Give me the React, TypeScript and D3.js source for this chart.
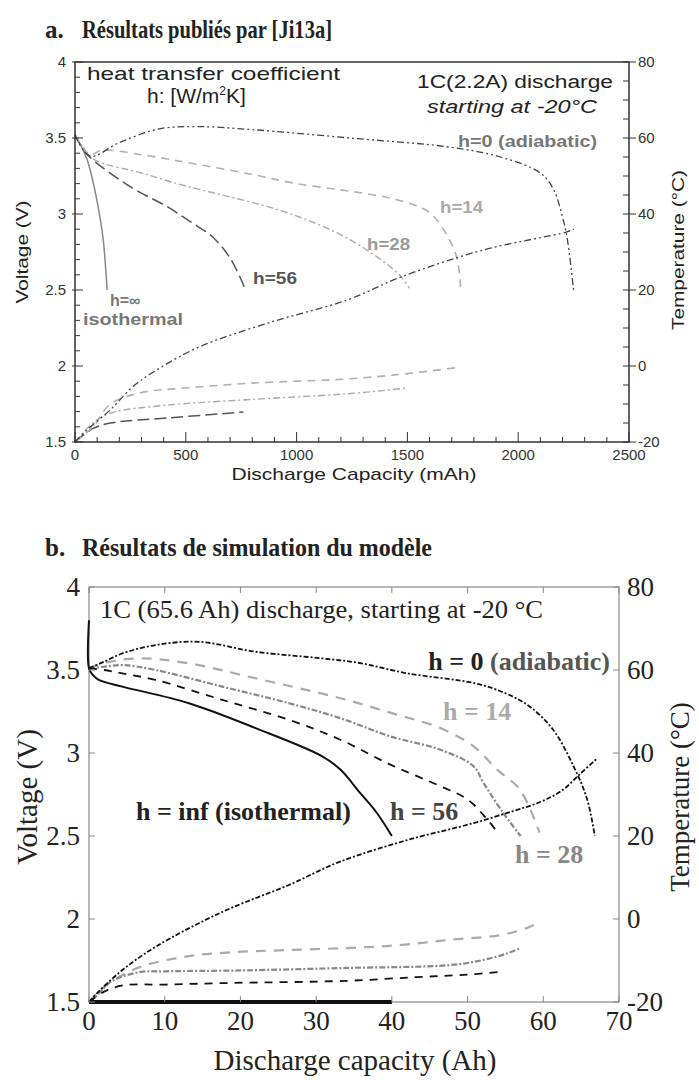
// Two discharge plots: voltage (left axis) and temperature (right axis) vs capacity.
import * as d3 from "d3";

type Pt = [number, number];

// ---- (a) published results [Ji13a], capacity in mAh ----
const aVoltInf: Pt[] = [[0, 3.52], [20, 3.47], [54, 3.36], [80, 3.22], [99, 3.09], [126, 2.85], [138, 2.65], [145, 2.5]];
const aVolt56: Pt[] = [[0, 3.52], [30, 3.44], [70, 3.37], [260, 3.17], [415, 3.05], [520, 2.95], [620, 2.85], [700, 2.71], [770, 2.5]];
const aVolt28: Pt[] = [[0, 3.52], [68, 3.38], [113, 3.34], [300, 3.27], [460, 3.2], [650, 3.13], [866, 3.05], [1050, 2.96], [1230, 2.84], [1380, 2.7], [1470, 2.59], [1510, 2.51]];
const aVolt14: Pt[] = [[0, 3.52], [68, 3.39], [120, 3.42], [300, 3.39], [500, 3.34], [800, 3.26], [1000, 3.2], [1240, 3.15], [1435, 3.1], [1600, 3.01], [1690, 2.83], [1725, 2.7], [1740, 2.52]];
const aVolt0: Pt[] = [[0, 3.52], [68, 3.38], [200, 3.47], [380, 3.56], [550, 3.575], [800, 3.555], [1240, 3.5], [1690, 3.44], [1920, 3.375], [2100, 3.27], [2160, 3.16], [2200, 2.98], [2220, 2.85], [2250, 2.5]];
const aTemp0: Pt[] = [[0, -20], [50, -17], [160, -11.5], [260, -5.5], [370, -1], [560, 5], [870, 11.3], [1230, 17.4], [1470, 23.4], [1840, 30.5], [2220, 35.3], [2250, 36]];
const aTemp14: Pt[] = [[0, -20], [80, -16], [160, -10], [300, -7], [500, -5.8], [800, -4.5], [1230, -3.4], [1500, -2], [1740, -0.3]];
const aTemp28: Pt[] = [[0, -20], [80, -15], [160, -12.4], [415, -10.3], [800, -8.8], [1230, -7.3], [1500, -5.8]];
const aTemp56: Pt[] = [[0, -20], [80, -16.5], [160, -15], [415, -13.7], [760, -12.1]];

const aXTicks = [0, 500, 1000, 1500, 2000, 2500];
const aVTicks = [1.5, 2, 2.5, 3, 3.5, 4];
const aTTicks = [-20, 0, 20, 40, 60, 80];

// ---- (b) model simulation, capacity in Ah ----
const bVoltInf: Pt[] = [[0, 3.8], [0, 3.51], [0.5, 3.47], [1.3, 3.44], [4.4, 3.4], [13.2, 3.3], [22, 3.15], [30.8, 2.98], [33.2, 2.9], [35.8, 2.76], [38, 2.64], [40, 2.5]];
const bVolt56: Pt[] = [[0, 3.51], [2, 3.5], [4.4, 3.48], [8.8, 3.44], [17.6, 3.32], [26.4, 3.2], [33.2, 3.08], [39.8, 2.93], [46.4, 2.8], [50, 2.72], [52.6, 2.6], [54, 2.52]];
const bVolt28: Pt[] = [[0, 3.51], [2, 3.52], [4.4, 3.53], [8.8, 3.5], [17.6, 3.4], [26.4, 3.3], [33.2, 3.21], [39.8, 3.1], [46.4, 3.02], [50.8, 2.92], [52.1, 2.82], [54.7, 2.64], [57, 2.5]];
const bVolt14: Pt[] = [[0, 3.51], [1.7, 3.54], [6.6, 3.57], [13.2, 3.54], [22, 3.45], [33.2, 3.33], [40, 3.24], [46.4, 3.15], [50.8, 3.04], [53.9, 2.9], [56.9, 2.78], [59.5, 2.52]];
const bVolt0: Pt[] = [[0, 3.51], [2, 3.55], [4.4, 3.6], [8.8, 3.65], [14.5, 3.67], [22, 3.61], [30.8, 3.57], [36, 3.54], [42, 3.48], [51, 3.42], [55, 3.36], [58.2, 3.28], [61.3, 3.14], [64, 2.92], [65.8, 2.72], [66.8, 2.5]];
const bTempInf: Pt[] = [[0, -20], [40, -20]];
const bTemp0: Pt[] = [[0, -20], [1, -18], [4.4, -12.3], [8.8, -6.7], [17.6, 1.7], [26.4, 8.2], [33, 13.7], [42, 19], [50.8, 23.1], [56, 26], [59.6, 28.2], [62.5, 31], [65, 35.2], [67, 38.5]];
const bTemp14: Pt[] = [[0, -20], [1, -18], [2.6, -15.5], [6.7, -11.6], [13, -9], [19, -8], [26, -7.5], [34, -7], [41, -6.3], [47.7, -5], [54.3, -3.9], [57.8, -2.2], [59.6, -0.7]];
const bTemp28: Pt[] = [[0, -20], [1, -18.5], [3, -15], [6.7, -12.8], [10, -12.6], [20, -12.4], [34, -11.8], [47.7, -11.1], [52, -9.9], [55.2, -8.3], [57, -7]];
const bTemp56: Pt[] = [[0, -20], [2, -17.5], [4.5, -16], [10, -15.8], [19, -15.4], [34, -14.9], [43.3, -14], [50, -13.4], [54, -12.8]];

const bXTicks = [0, 10, 20, 30, 40, 50, 60, 70];
const bVTicks = [1.5, 2, 2.5, 3, 3.5, 4];
const bTTicks = [-20, 0, 20, 40, 60, 80];

const SANS = "Liberation Sans, Arial, sans-serif";
const SERIF = "Liberation Serif, Times New Roman, serif";

const mkLine = (x: d3.ScaleLinear<number, number>, y: d3.ScaleLinear<number, number>) =>
  d3.line<Pt>().x(d => x(d[0])).y(d => y(d[1])).curve(d3.curveCatmullRom.alpha(0.5));

function ChartA() {
  const x = d3.scaleLinear().domain([0, 2500]).range([75, 629]);
  const yV = d3.scaleLinear().domain([1.5, 4]).range([442, 62]);
  const yT = d3.scaleLinear().domain([-20, 80]).range([442, 62]);
  const lv = mkLine(x, yV);
  const lt = mkLine(x, yT);

  const series = [
    { v: aVoltInf, t: null, stroke: "#888", dash: "", w: 1.5 },
    { v: aVolt56, t: aTemp56, stroke: "#555", dash: "12,5", w: 1.5 },
    { v: aVolt28, t: aTemp28, stroke: "#aaa", dash: "7,3,2,3", w: 1.4 },
    { v: aVolt14, t: aTemp14, stroke: "#b0b0b0", dash: "8,6", w: 1.6 },
    { v: aVolt0, t: aTemp0, stroke: "#444", dash: "7,3,2,3,2,3", w: 1.3 },
  ];

  const minorV = d3.range(15, 41).map(d => d / 10);
  const minorT = d3.range(-20, 81, 5);
  const minorX = d3.range(0, 2501, 100);

  return (
    <g fontFamily={SANS}>
      <text x={45} y={38} fontFamily={SERIF} fontWeight="bold" fontSize={25} fill="#222">a.</text>
      <text x={82} y={38} fontFamily={SERIF} fontWeight="bold" fontSize={25} fill="#222" textLength={250} lengthAdjust="spacingAndGlyphs">Résultats publiés par [Ji13a]</text>

      {series.map((s, i) => (
        <g key={i} fill="none" stroke={s.stroke} strokeWidth={s.w} strokeDasharray={s.dash}>
          <path d={lv(s.v) || ""} />
          {s.t && <path d={lt(s.t) || ""} />}
        </g>
      ))}

      {/* frame */}
      <rect x={75} y={62} width={554} height={380} fill="none" stroke="#333" strokeWidth={1.5} />

      {/* left ticks */}
      {minorV.map(v => {
        const major = Math.abs(v * 2 - Math.round(v * 2)) < 1e-6;
        return <line key={"lv" + v} x1={major ? 72 : 75} x2={major ? 83 : 80} y1={yV(v)} y2={yV(v)} stroke="#333" strokeWidth={1} />;
      })}
      {aVTicks.map(v => (
        <text key={"lvt" + v} x={66} y={yV(v)} dy="0.35em" textAnchor="end" fontSize={15} fill="#333">{v}</text>
      ))}

      {/* right ticks */}
      {minorT.map(t => {
        const major = t % 20 === 0;
        return <line key={"rt" + t} x1={623} x2={major ? 636 : 629} y1={yT(t)} y2={yT(t)} stroke="#333" strokeWidth={1} />;
      })}
      {aTTicks.map(t => (
        <text key={"rtt" + t} x={638} y={yT(t)} dy="0.35em" fontSize={15} fill="#333">{t}</text>
      ))}

      {/* bottom ticks */}
      {minorX.map(c => {
        const major = c % 500 === 0;
        return <line key={"bx" + c} x1={x(c)} x2={x(c)} y1={442} y2={major ? 432 : 437} stroke="#333" strokeWidth={1} />;
      })}
      {aXTicks.map(c => (
        <text key={"bxt" + c} x={x(c)} y={460} textAnchor="middle" fontSize={15} fill="#333">{c}</text>
      ))}

      <text x={354} y={480} textAnchor="middle" fontSize={17} fill="#222" textLength={245} lengthAdjust="spacingAndGlyphs">Discharge Capacity (mAh)</text>
      <text transform="translate(28,252) rotate(-90)" textAnchor="middle" fontSize={16} fill="#222" textLength={103} lengthAdjust="spacingAndGlyphs">Voltage (V)</text>
      <text transform="translate(684,250) rotate(-90)" textAnchor="middle" fontSize={16} fill="#222" textLength={160} lengthAdjust="spacingAndGlyphs">Temperature (°C)</text>

      {/* annotations */}
      <text x={87} y={80} fontSize={19} fill="#222" textLength={253} lengthAdjust="spacingAndGlyphs">heat transfer coefficient</text>
      <text x={147} y={103} fontSize={21} fill="#222">
        h: [W/m<tspan fontSize={12} dy={-8}>2</tspan><tspan dy={8}>K]</tspan>
      </text>
      <text x={613} y={88} textAnchor="end" fontSize={18} fill="#222" textLength={196} lengthAdjust="spacingAndGlyphs">1C(2.2A) discharge</text>
      <text x={597} y={113} textAnchor="end" fontSize={18} fontStyle="italic" fill="#222" textLength={170} lengthAdjust="spacingAndGlyphs">starting at -20°C</text>
      <text x={597} y={147} textAnchor="end" fontSize={16} fontWeight="bold" fill="#777" textLength={139} lengthAdjust="spacingAndGlyphs">h=0 (adiabatic)</text>
      <text x={440} y={213} fontSize={16} fontWeight="bold" fill="#aaa" textLength={43} lengthAdjust="spacingAndGlyphs">h=14</text>
      <text x={367} y={250} fontSize={16} fontWeight="bold" fill="#999" textLength={43} lengthAdjust="spacingAndGlyphs">h=28</text>
      <text x={253} y={284} fontSize={16} fontWeight="bold" fill="#555" textLength={44} lengthAdjust="spacingAndGlyphs">h=56</text>
      <text x={110} y={306} fontSize={16} fontWeight="bold" fill="#777">h=∞</text>
      <text x={83} y={325} fontSize={16} fontWeight="bold" fill="#777" textLength={100} lengthAdjust="spacingAndGlyphs">isothermal</text>
    </g>
  );
}

function ChartB() {
  const x = d3.scaleLinear().domain([0, 70]).range([89, 619]);
  const yV = d3.scaleLinear().domain([1.5, 4]).range([1002, 587]);
  const yT = d3.scaleLinear().domain([-20, 80]).range([1002, 587]);
  const lv = mkLine(x, yV);
  const lt = mkLine(x, yT);

  const series = [
    { v: bVolt14, t: bTemp14, stroke: "#aaa", dash: "10,8", w: 2.2 },
    { v: bVolt28, t: bTemp28, stroke: "#888", dash: "6,2,2,2", w: 2.2 },
    { v: bVolt56, t: bTemp56, stroke: "#111", dash: "8,7", w: 1.8 },
    { v: bVolt0, t: bTemp0, stroke: "#111", dash: "5,2,2,2", w: 1.8 },
    { v: bVoltInf, t: null, stroke: "#111", dash: "", w: 2 },
  ];

  return (
    <g fontFamily={SERIF}>
      <text x={45} y={556} fontWeight="bold" fontSize={25} fill="#222">b.</text>
      <text x={82} y={556} fontWeight="bold" fontSize={25} fill="#222" textLength={350} lengthAdjust="spacingAndGlyphs">Résultats de simulation du modèle</text>

      <rect x={89} y={587} width={530} height={415} fill="none" stroke="#888" strokeWidth={1.2} />

      {series.map((s, i) => (
        <g key={i} fill="none" stroke={s.stroke} strokeWidth={s.w} strokeDasharray={s.dash}>
          <path d={lv(s.v) || ""} />
          {s.t && <path d={lt(s.t) || ""} />}
        </g>
      ))}
      <path d={lt(bTempInf) || ""} fill="none" stroke="#111" strokeWidth={4} />

      {/* ticks */}
      {bVTicks.map(v => (
        <g key={"lv" + v}>
          <line x1={89} x2={95} y1={yV(v)} y2={yV(v)} stroke="#888" />
          <text x={80} y={yV(v)} dy="0.35em" textAnchor="end" fontSize={27} fill="#222">{v}</text>
        </g>
      ))}
      {bTTicks.map(t => (
        <g key={"rt" + t}>
          <line x1={613} x2={619} y1={yT(t)} y2={yT(t)} stroke="#888" />
          <text x={627} y={yT(t)} dy="0.35em" fontSize={27} fill="#222">{t}</text>
        </g>
      ))}
      {bXTicks.map(c => (
        <g key={"bx" + c}>
          <line x1={x(c)} x2={x(c)} y1={1002} y2={996} stroke="#888" />
          <line x1={x(c)} x2={x(c)} y1={587} y2={593} stroke="#888" />
          <text x={x(c)} y={1030} textAnchor="middle" fontSize={27} fill="#222">{c}</text>
        </g>
      ))}

      <text x={355} y={1070} textAnchor="middle" fontSize={29} fill="#222">Discharge capacity (Ah)</text>
      <text transform="translate(37,797) rotate(-90)" textAnchor="middle" fontSize={29} fill="#222">Voltage (V)</text>
      <text transform="translate(689,797) rotate(-90)" textAnchor="middle" fontSize={27} fill="#222">Temperature (°C)</text>

      {/* annotations */}
      <text x={100} y={618} fontSize={25} fill="#222" textLength={443} lengthAdjust="spacingAndGlyphs">1C (65.6 Ah) discharge, starting at -20 °C</text>
      <text x={610} y={670} textAnchor="end" fontSize={26} fontWeight="bold" fill="#222">
        h = 0 <tspan fill="#555">(adiabatic)</tspan>
      </text>
      <text x={443} y={720} fontSize={26} fontWeight="bold" fill="#aaa">h = 14</text>
      <text x={390} y={820} fontSize={26} fontWeight="bold" fill="#444">h = 56</text>
      <text x={515} y={863} fontSize={26} fontWeight="bold" fill="#888">h = 28</text>
      <text x={136} y={820} fontSize={26} fontWeight="bold" fill="#222">h = inf (isothermal)</text>
    </g>
  );
}

export default function App() {
  return (
    <svg width={699} height={1080} viewBox="0 0 699 1080" style={{ position: "absolute", left: 0, top: 0, background: "#fff" }}>
      <rect width={699} height={1080} fill="#fff" />
      <ChartA />
      <ChartB />
    </svg>
  );
}
